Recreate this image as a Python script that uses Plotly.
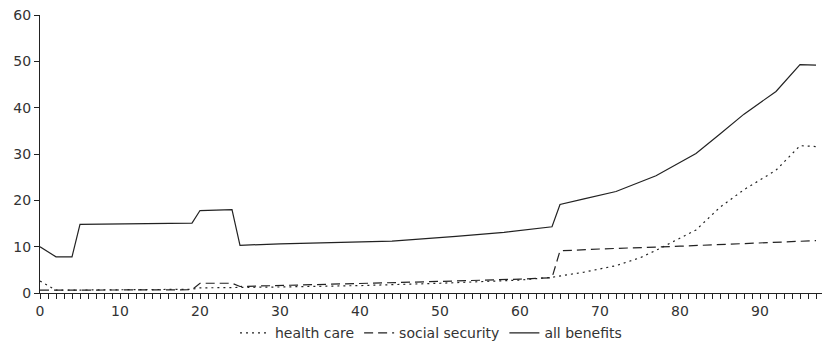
import plotly.graph_objects as go

# Health care (dotted)
hc_age = [0, 2, 10, 19, 20, 24, 25, 30, 40, 50, 60, 64, 65, 68, 72, 75, 77, 80, 82, 85, 88, 92, 95, 97]
hc_val = [2.6, 0.6, 0.7, 0.8, 1.1, 1.1, 1.2, 1.3, 1.6, 2.1, 2.8, 3.4, 3.7, 4.5, 5.9, 7.6, 9.2, 11.8, 13.6, 18.5, 22.3, 26.5, 31.8, 31.6]

# Social security (dashed)
ss_age = [0, 19, 20, 24, 25, 30, 40, 50, 60, 64, 65, 70, 80, 90, 97]
ss_val = [0.6, 0.7, 2.1, 2.1, 1.4, 1.6, 2.0, 2.5, 3.0, 3.3, 9.1, 9.5, 10.1, 10.8, 11.3]

# All benefits (solid)
ab_age = [0, 2, 4, 5, 19, 20, 24, 25, 30, 44, 52, 58, 64, 65, 68, 72, 77, 82, 85, 88, 92, 95, 97]
ab_val = [10.0, 7.8, 7.8, 14.8, 15.1, 17.8, 18.0, 10.3, 10.6, 11.2, 12.2, 13.1, 14.3, 19.1, 20.3, 21.9, 25.3, 30.1, 34.3, 38.6, 43.5, 49.3, 49.2]

x_ticks = [0, 10, 20, 30, 40, 50, 60, 70, 80, 90]
y_ticks = [0, 10, 20, 30, 40, 50, 60]

ink = "#222222"
fig = go.Figure()
fig.add_trace(go.Scatter(x=hc_age, y=hc_val, mode="lines", name="health care",
                         line=dict(color=ink, width=1.2, dash="2px,4px")))
fig.add_trace(go.Scatter(x=ss_age, y=ss_val, mode="lines", name="social security",
                         line=dict(color=ink, width=1.2, dash="9px,5px")))
fig.add_trace(go.Scatter(x=ab_age, y=ab_val, mode="lines", name="all benefits",
                         line=dict(color=ink, width=1.2)))

font = dict(family="DejaVu Sans, Liberation Sans, Arial, sans-serif", size=14, color="#333333")
fig.update_layout(
    width=824, height=344,
    margin=dict(l=40, r=2, t=15, b=51, autoexpand=False),
    paper_bgcolor="white", plot_bgcolor="white",
    font=font,
    showlegend=True,
    legend=dict(orientation="h", x=0.5, xanchor="center", y=-0.145, yanchor="middle",
                font=font, itemwidth=30, tracegroupgap=0, bgcolor="rgba(0,0,0,0)"),
    xaxis=dict(range=[0, 97.75], tickvals=x_ticks, ticktext=[str(v) for v in x_ticks],
               showgrid=False, zeroline=False, showline=True, linecolor=ink, linewidth=1.2,
               ticks="outside", ticklen=5, tickwidth=1, tickcolor=ink, automargin=False,
               minor=dict(dtick=1, ticks="outside", ticklen=5, tickwidth=1, tickcolor=ink, showgrid=False),
               tickfont=font, fixedrange=True),
    yaxis=dict(range=[0, 60], tickvals=y_ticks, ticktext=[str(v) for v in y_ticks],
               showgrid=False, zeroline=False, showline=True, linecolor=ink, linewidth=1.2,
               ticks="outside", ticklen=5, tickwidth=1, tickcolor=ink, automargin=False,
               tickfont=font, fixedrange=True),
)
fig.write_html("out.html", config={"displayModeBar": False},
               post_script="document.body.style.margin='0';document.body.style.overflow='hidden';")
